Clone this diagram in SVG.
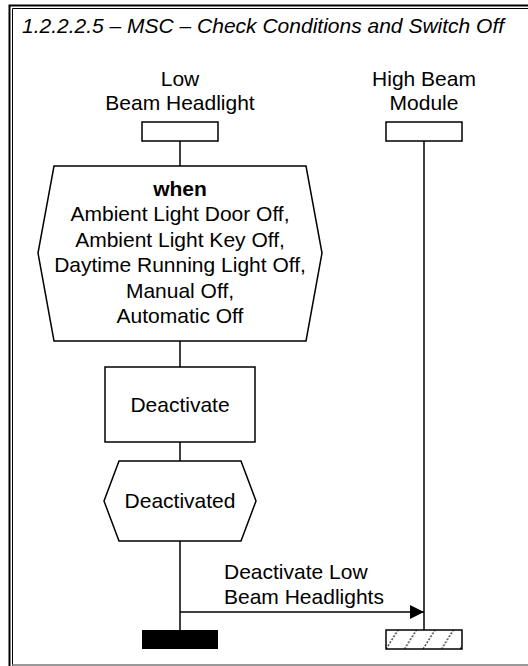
<svg xmlns="http://www.w3.org/2000/svg" width="528" height="666" viewBox="0 0 528 666">
<style>
text{font-family:"Liberation Sans",Arial,sans-serif;font-size:21px;fill:#000}
.c{text-anchor:middle}
.shape{fill:#fff;stroke:#000;stroke-width:1.5}
.line{stroke:#000;stroke-width:1.5;fill:none}
</style>
<defs>
<pattern id="hatch" patternUnits="userSpaceOnUse" width="18.5" height="19" x="386" y="630">
<line x1="0" y1="19" x2="12" y2="0" stroke="#444" stroke-width="1.5" stroke-dasharray="2 1.5"/>
</pattern>
<marker id="arr" markerWidth="14" markerHeight="14" refX="14" refY="7" orient="auto" markerUnits="userSpaceOnUse">
<path d="M0,0 L14,7 L0,14 Z" fill="#000"/>
</marker>
</defs>
<rect width="528" height="666" fill="#fff"/>
<g id="frame">
<path d="M9.5,666 V5.5 H528" fill="none" stroke="#000" stroke-width="2"/>
<path d="M12.5,666 V8.5 H528" fill="none" stroke="#000" stroke-width="1"/>
<line x1="12" y1="665" x2="528" y2="665" stroke="#777" stroke-width="1.5"/>
<text x="22" y="33" font-style="italic">1.2.2.2.5 – MSC – Check Conditions and Switch Off</text>
</g>
<g id="connectors">
<line class="line" x1="180" y1="141" x2="180" y2="166"/>
<line class="line" x1="180" y1="341" x2="180" y2="367"/>
<line class="line" x1="180" y1="442" x2="180" y2="461"/>
<line class="line" x1="180" y1="541" x2="180" y2="630"/>
<line class="line" x1="424" y1="141" x2="424" y2="630"/>
<line class="line" x1="180" y1="612" x2="424" y2="612" marker-end="url(#arr)"/>
<text x="224" y="579">Deactivate Low</text>
<text x="224" y="604">Beam Headlights</text>
</g>
<g id="lowbeam">
<text class="c" x="180" y="86">Low</text>
<text class="c" x="180" y="110">Beam Headlight</text>
<rect class="shape" x="142" y="122" width="76" height="19"/>
</g>
<g id="highbeam">
<text class="c" x="424" y="86">High Beam</text>
<text class="c" x="424" y="110">Module</text>
<rect class="shape" x="386" y="122" width="76" height="19"/>
</g>
<g id="condition">
<polygon class="shape" points="54,166 306,166 322,253 306,341 54,341 38,253"/>
<text class="c" x="180" y="196" font-weight="bold">when</text>
<text class="c" x="180" y="221">Ambient Light Door Off,</text>
<text class="c" x="180" y="247">Ambient Light Key Off,</text>
<text class="c" x="180" y="272">Daytime Running Light Off,</text>
<text class="c" x="180" y="298">Manual Off,</text>
<text class="c" x="180" y="323">Automatic Off</text>
</g>
<g id="deactivate">
<rect class="shape" x="105" y="367" width="150" height="75"/>
<text class="c" x="180" y="412">Deactivate</text>
</g>
<g id="deactivated">
<polygon class="shape" points="119,461 241,461 256,501 241,541 119,541 104,501"/>
<text class="c" x="180" y="508">Deactivated</text>
</g>
<g id="stop-low">
<rect x="142" y="630" width="76" height="19" fill="#000"/>
</g>
<g id="stop-high">
<rect x="386" y="630" width="76" height="19" fill="url(#hatch)" stroke="#000" stroke-width="1.5"/>
</g>
</svg>
